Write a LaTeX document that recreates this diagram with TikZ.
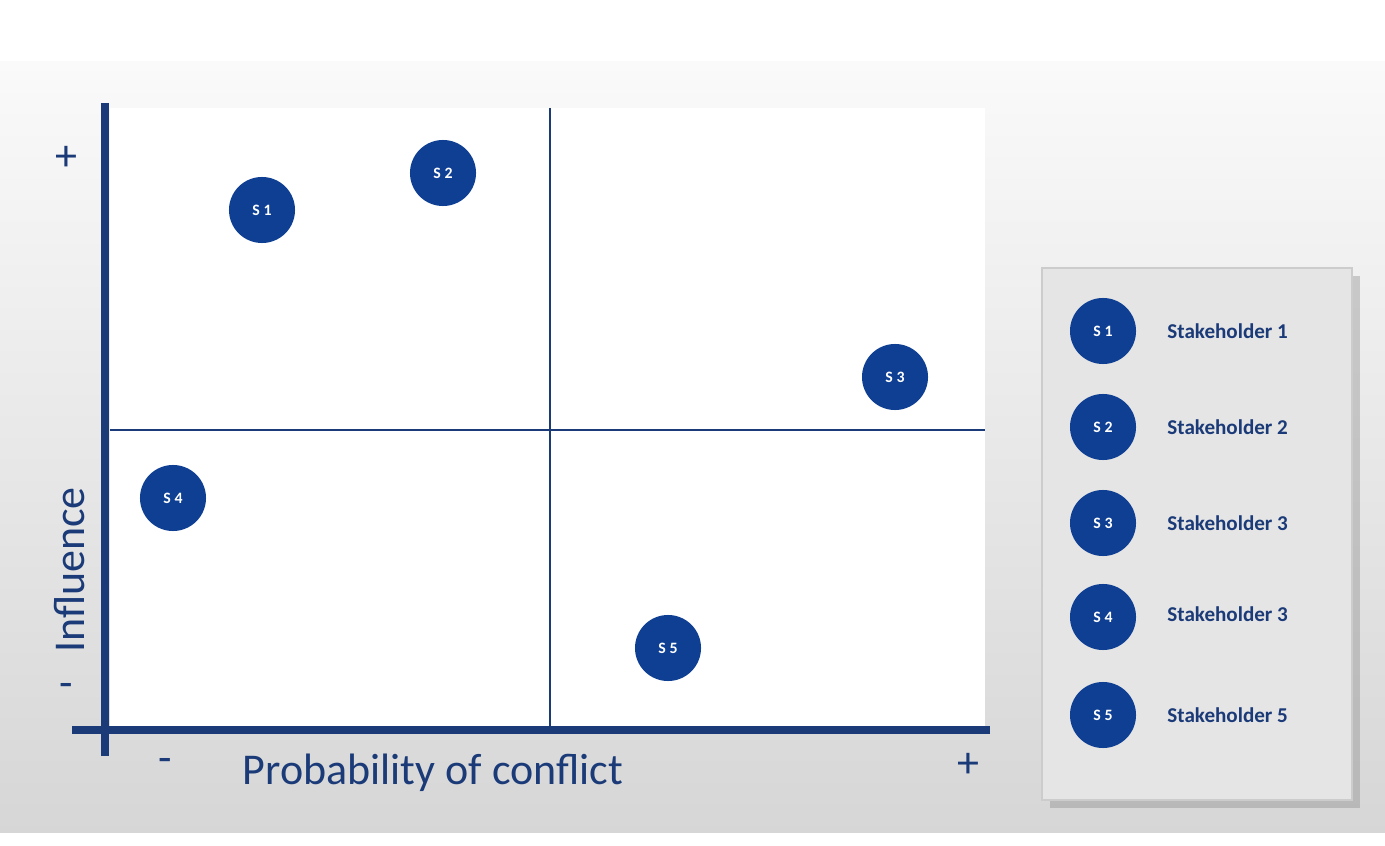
\documentclass[tikz,border=0pt]{standalone}
\usepackage{fontspec}
\setmainfont{Carlito}
\usetikzlibrary{shadows}
\definecolor{navy}{HTML}{0E3F93}
\definecolor{axisblue}{HTML}{1B3A78}
\begin{document}
\begin{tikzpicture}[x=0.01cm,y=-0.01cm,
  stake/.style={circle,fill=navy,minimum size=0.66cm,inner sep=0pt,text=white,font=\fontsize{4.5}{5}\selectfont\bfseries},
  legtext/.style={anchor=west,text=axisblue,font=\fontsize{6}{7}\selectfont\bfseries},
  big/.style={text=axisblue,font=\fontsize{12.5}{14}\selectfont}]
  \useasboundingbox (0,0) rectangle (1385,846);
  \shade[top color=white!96!gray,bottom color=black!16] (0,62) rectangle (1385,832);
  \fill[white] (110,108) rectangle (985,727);

  % quadrants
  \draw[axisblue,line width=0.7pt] (550,108) -- (550,727);
  \draw[axisblue,line width=0.7pt] (110,430) -- (985,430);
  % axes
  \draw[axisblue,line width=2pt] (105,103) -- (105,756);
  \draw[axisblue,line width=2pt] (72,730) -- (990,730);

  \node[big] (yplus) at (66,158) {+};
  \node[big] (yminus) at (66,690) {-};
  \node[big,rotate=90] (ylab) at (70,570) {Influence};
  \node[big] (xminus) at (165,765) {-};
  \node[big] (xlab) at (433,773) {Probability of conflict};
  \node[big] (xplus) at (968,765) {+};

  \node[stake] (s1) at (262,210) {S 1};
  \node[stake] (s2) at (443,173) {S 2};
  \node[stake] (s3) at (895,377) {S 3};
  \node[stake] (s4) at (173,498) {S 4};
  \node[stake] (s5) at (668,648) {S 5};

  % legend
  \fill[black!10,draw=black!20,drop shadow={opacity=0.35}] (1042,268) rectangle (1352,800);
  \node[stake] (l1) at (1103,331) {S 1};
  \node[stake] (l2) at (1103,427) {S 2};
  \node[stake] (l3) at (1103,523) {S 3};
  \node[stake] (l4) at (1103,617) {S 4};
  \node[stake] (l5) at (1103,715) {S 5};
  \node[legtext] at (1155,331) {Stakeholder 1};
  \node[legtext] at (1155,427) {Stakeholder 2};
  \node[legtext] at (1155,523) {Stakeholder 3};
  \node[legtext] at (1155,614) {Stakeholder 3};
  \node[legtext] at (1155,715) {Stakeholder 5};
\end{tikzpicture}
\end{document}
